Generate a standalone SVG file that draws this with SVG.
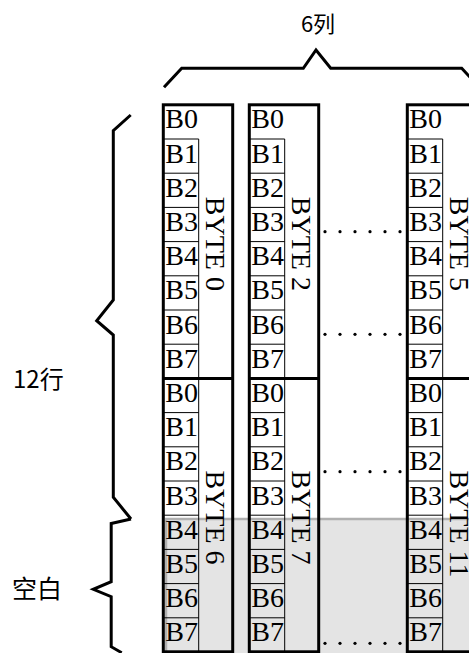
<svg xmlns="http://www.w3.org/2000/svg" width="469" height="653" viewBox="0 0 469 653">
<style>
.col{fill:none;stroke:#000;stroke-width:3}
.thin{stroke:#000;stroke-width:1}
.thick{stroke:#000;stroke-width:3}
.b{font-family:"Liberation Serif","Times New Roman",serif;font-size:28px;fill:#000}
.byte{font-family:"Liberation Serif","Times New Roman",serif;font-size:28px;fill:#000}
.cjk{font-family:"Noto Sans CJK SC","Noto Sans",sans-serif;fill:#000}
.brace{fill:none;stroke:#000;stroke-width:3;stroke-linejoin:miter}
.dot{fill:#000}
</style>
<defs>
<g id="cells">
<line class="thin" x1="35.4" y1="34.2" x2="35.4" y2="547" />
<line class="thin" x1="0" y1="34.2" x2="35.4" y2="34.2"/>
<line class="thin" x1="0" y1="68.4" x2="35.4" y2="68.4"/>
<line class="thin" x1="0" y1="102.6" x2="35.4" y2="102.6"/>
<line class="thin" x1="0" y1="136.8" x2="35.4" y2="136.8"/>
<line class="thin" x1="0" y1="171" x2="35.4" y2="171"/>
<line class="thin" x1="0" y1="205.2" x2="35.4" y2="205.2"/>
<line class="thin" x1="0" y1="239.4" x2="35.4" y2="239.4"/>
<line class="thin" x1="0" y1="307.8" x2="35.4" y2="307.8"/>
<line class="thin" x1="0" y1="342" x2="35.4" y2="342"/>
<line class="thin" x1="0" y1="376.2" x2="35.4" y2="376.2"/>
<line class="thin" x1="0" y1="410.4" x2="35.4" y2="410.4"/>
<line class="thin" x1="0" y1="444.6" x2="35.4" y2="444.6"/>
<line class="thin" x1="0" y1="478.8" x2="35.4" y2="478.8"/>
<line class="thin" x1="0" y1="513" x2="35.4" y2="513"/>
<line class="thick" x1="0" y1="273.6" x2="69.4" y2="273.6"/>
<rect class="col" x="0" y="0" width="69.4" height="547"/>
<text class="b" x="2" y="23.6">B0</text>
<text class="b" x="2" y="57.8">B1</text>
<text class="b" x="2" y="92">B2</text>
<text class="b" x="2" y="126.2">B3</text>
<text class="b" x="2" y="160.4">B4</text>
<text class="b" x="2" y="194.6">B5</text>
<text class="b" x="2" y="228.8">B6</text>
<text class="b" x="2" y="263">B7</text>
<text class="b" x="2" y="297.2">B0</text>
<text class="b" x="2" y="331.4">B1</text>
<text class="b" x="2" y="365.6">B2</text>
<text class="b" x="2" y="399.8">B3</text>
<text class="b" x="2" y="434">B4</text>
<text class="b" x="2" y="468.2">B5</text>
<text class="b" x="2" y="502.4">B6</text>
<text class="b" x="2" y="536.6">B7</text>
</g>
</defs>
<rect id="blank-area" x="166" y="519" width="310" height="140" fill="#e4e4e4" stroke="#b0b0b0" stroke-width="2.5"/>
<g id="column-1" transform="translate(163.3,104.8)">
<use href="#cells"/>
<text class="byte" transform="translate(42.4,92) rotate(90)">BYTE 0</text>
<text class="byte" transform="translate(42.4,365.6) rotate(90)">BYTE 6</text>
</g>
<g id="column-2" transform="translate(249.3,104.8)">
<use href="#cells"/>
<text class="byte" transform="translate(42.4,92) rotate(90)">BYTE 2</text>
<text class="byte" transform="translate(42.4,365.6) rotate(90)">BYTE 7</text>
</g>
<g id="column-3" transform="translate(407.3,104.8)">
<use href="#cells"/>
<text class="byte" transform="translate(42.4,92) rotate(90)">BYTE 5</text>
<text class="byte" transform="translate(42.4,365.6) rotate(90)">BYTE 11</text>
</g>
<g id="connectors">
<g id="dots-1" class="dot"><circle cx="325" cy="231.7" r="1.6"/><circle cx="340" cy="231.7" r="1.6"/><circle cx="355" cy="231.7" r="1.6"/><circle cx="370" cy="231.7" r="1.6"/><circle cx="385" cy="231.7" r="1.6"/><circle cx="400" cy="231.7" r="1.6"/></g>
<g id="dots-2" class="dot"><circle cx="325" cy="334.3" r="1.6"/><circle cx="340" cy="334.3" r="1.6"/><circle cx="355" cy="334.3" r="1.6"/><circle cx="370" cy="334.3" r="1.6"/><circle cx="385" cy="334.3" r="1.6"/><circle cx="400" cy="334.3" r="1.6"/></g>
<g id="dots-3" class="dot"><circle cx="325" cy="471.7" r="1.6"/><circle cx="340" cy="471.7" r="1.6"/><circle cx="355" cy="471.7" r="1.6"/><circle cx="370" cy="471.7" r="1.6"/><circle cx="385" cy="471.7" r="1.6"/><circle cx="400" cy="471.7" r="1.6"/></g>
<g id="dots-4" class="dot"><circle cx="325" cy="643.3" r="1.6"/><circle cx="340" cy="643.3" r="1.6"/><circle cx="355" cy="643.3" r="1.6"/><circle cx="370" cy="643.3" r="1.6"/><circle cx="385" cy="643.3" r="1.6"/><circle cx="400" cy="643.3" r="1.6"/></g>
<polyline id="brace-cols" class="brace" points="164,87.3 181.7,68.3 303.3,68.3 316,50 330.7,68.3 461.7,68.3 480,88"/>
<polyline id="brace-rows" class="brace" points="130.7,115 113.3,130.7 113.3,300 96.7,320.7 113.3,335 113.3,497.3 131,519"/>
<polyline id="brace-blank" class="brace" points="131,519 111.2,523.5 111.2,581.7 93.3,589.3 111.2,596.7 111.2,646.7 121.7,652.7"/>
</g>
<g id="labels">
<text class="cjk" x="318" y="32" font-size="22" text-anchor="middle">6列</text>
<text class="cjk" x="13" y="388" font-size="24">12行</text>
<text class="cjk" x="12" y="598" font-size="25">空白</text>
</g>
</svg>
